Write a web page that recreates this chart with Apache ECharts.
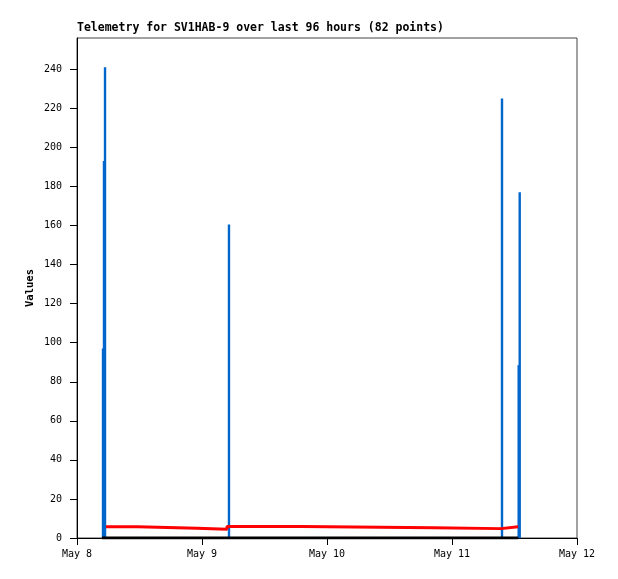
<!DOCTYPE html>
<html>
<head>
<meta charset="utf-8">
<script src="https://cdn.jsdelivr.net/npm/echarts@6/dist/echarts.min.js"></script>
<style>
html,body{margin:0;padding:0;background:#fff;}
#chart{width:618px;height:579px;}
</style>
</head>
<body>
<div id="chart"></div>
<script>
// x values are hours since May 8 00:00
var xTickHours = [0, 24, 48, 72, 96];
var xTickLabels = ['May 8', 'May 9', 'May 10', 'May 11', 'May 12'];
var yTickValues = [0, 20, 40, 60, 80, 100, 120, 140, 160, 180, 200, 220, 240];

// blue spikes (impulses)
var spikeHours  = [4.99, 5.18, 5.38, 29.18, 81.6, 84.8, 85.0];
var spikeValues = [97, 193, 241, 160.5, 225, 88.5, 177];

// red step series
var redHours  = [5.57, 11.65, 23.04, 28.8, 42.95, 68.4, 81.4, 84.7];
var redValues = [5.8, 5.0, 4.5, 5.9, 5.2, 4.8, 5.8, 5.8];

// black series at zero
var blackHours  = [4.8, 84.7];
var blackValues = [0, 0];

function zip(a, b) { return a.map(function (v, i) { return [v, b[i]]; }); }
// hold each value until the next sample (horizontal first, then vertical)
function steps(a, b) {
  var out = [];
  for (var i = 0; i < a.length; i++) {
    out.push([a[i], b[i]]);
    if (i + 1 < a.length) out.push([a[i + 1], b[i]]);
  }
  return out;
}

var mono = 'DejaVu Sans Mono';
var chart = echarts.init(document.getElementById('chart'), null, {renderer: 'canvas'});
chart.setOption({
  animation: false,
  backgroundColor: '#ffffff',
  title: {
    text: 'Telemetry for SV1HAB-9 over last 96 hours (82 points)',
    left: 77, top: 22, padding: 0,
    textStyle: {fontFamily: mono, fontWeight: 'bold', fontSize: 11.5, color: '#000'}
  },
  grid: {left: 77, right: 41, top: 38, bottom: 41, show: true, borderColor: '#444', borderWidth: 1, backgroundColor: 'transparent'},
  xAxis: {
    type: 'value', min: 0, max: 96, interval: 24,
    axisLine: {show: true, lineStyle: {color: '#000', width: 1}},
    axisTick: {show: true, length: 7, lineStyle: {color: '#000'}, customValues: xTickHours},
    axisLabel: {
      fontFamily: mono, fontSize: 10, color: '#000', margin: 11,
      customValues: xTickHours,
      formatter: function (v) { return xTickLabels[xTickHours.indexOf(v)] || ''; }
    },
    splitLine: {show: false}
  },
  yAxis: {
    type: 'value', min: 0, max: 256,
    name: 'Values', nameLocation: 'middle', nameRotate: 90, nameGap: 41,
    nameMoveOverlap: false,
    nameTextStyle: {fontFamily: mono, fontWeight: 'bold', fontSize: 10.5, color: '#000'},
    axisLine: {show: true, lineStyle: {color: '#000', width: 1}},
    axisTick: {show: true, length: 7, lineStyle: {color: '#000'}, customValues: yTickValues},
    axisLabel: {fontFamily: mono, fontSize: 10, color: '#000', margin: 15, customValues: yTickValues},
    splitLine: {show: false}
  },
  series: [
    {
      type: 'bar', data: zip(spikeHours, spikeValues), barWidth: 2.4,
      itemStyle: {color: '#0066cc'}, z: 2
    },
    {
      type: 'line', data: steps(redHours, redValues),
      showSymbol: false, lineStyle: {color: '#ff0000', width: 3}, z: 3
    },
    {
      type: 'line', data: zip(blackHours, blackValues),
      showSymbol: false, lineStyle: {color: '#000000', width: 3}, z: 4
    }
  ]
});
</script>
</body>
</html>
